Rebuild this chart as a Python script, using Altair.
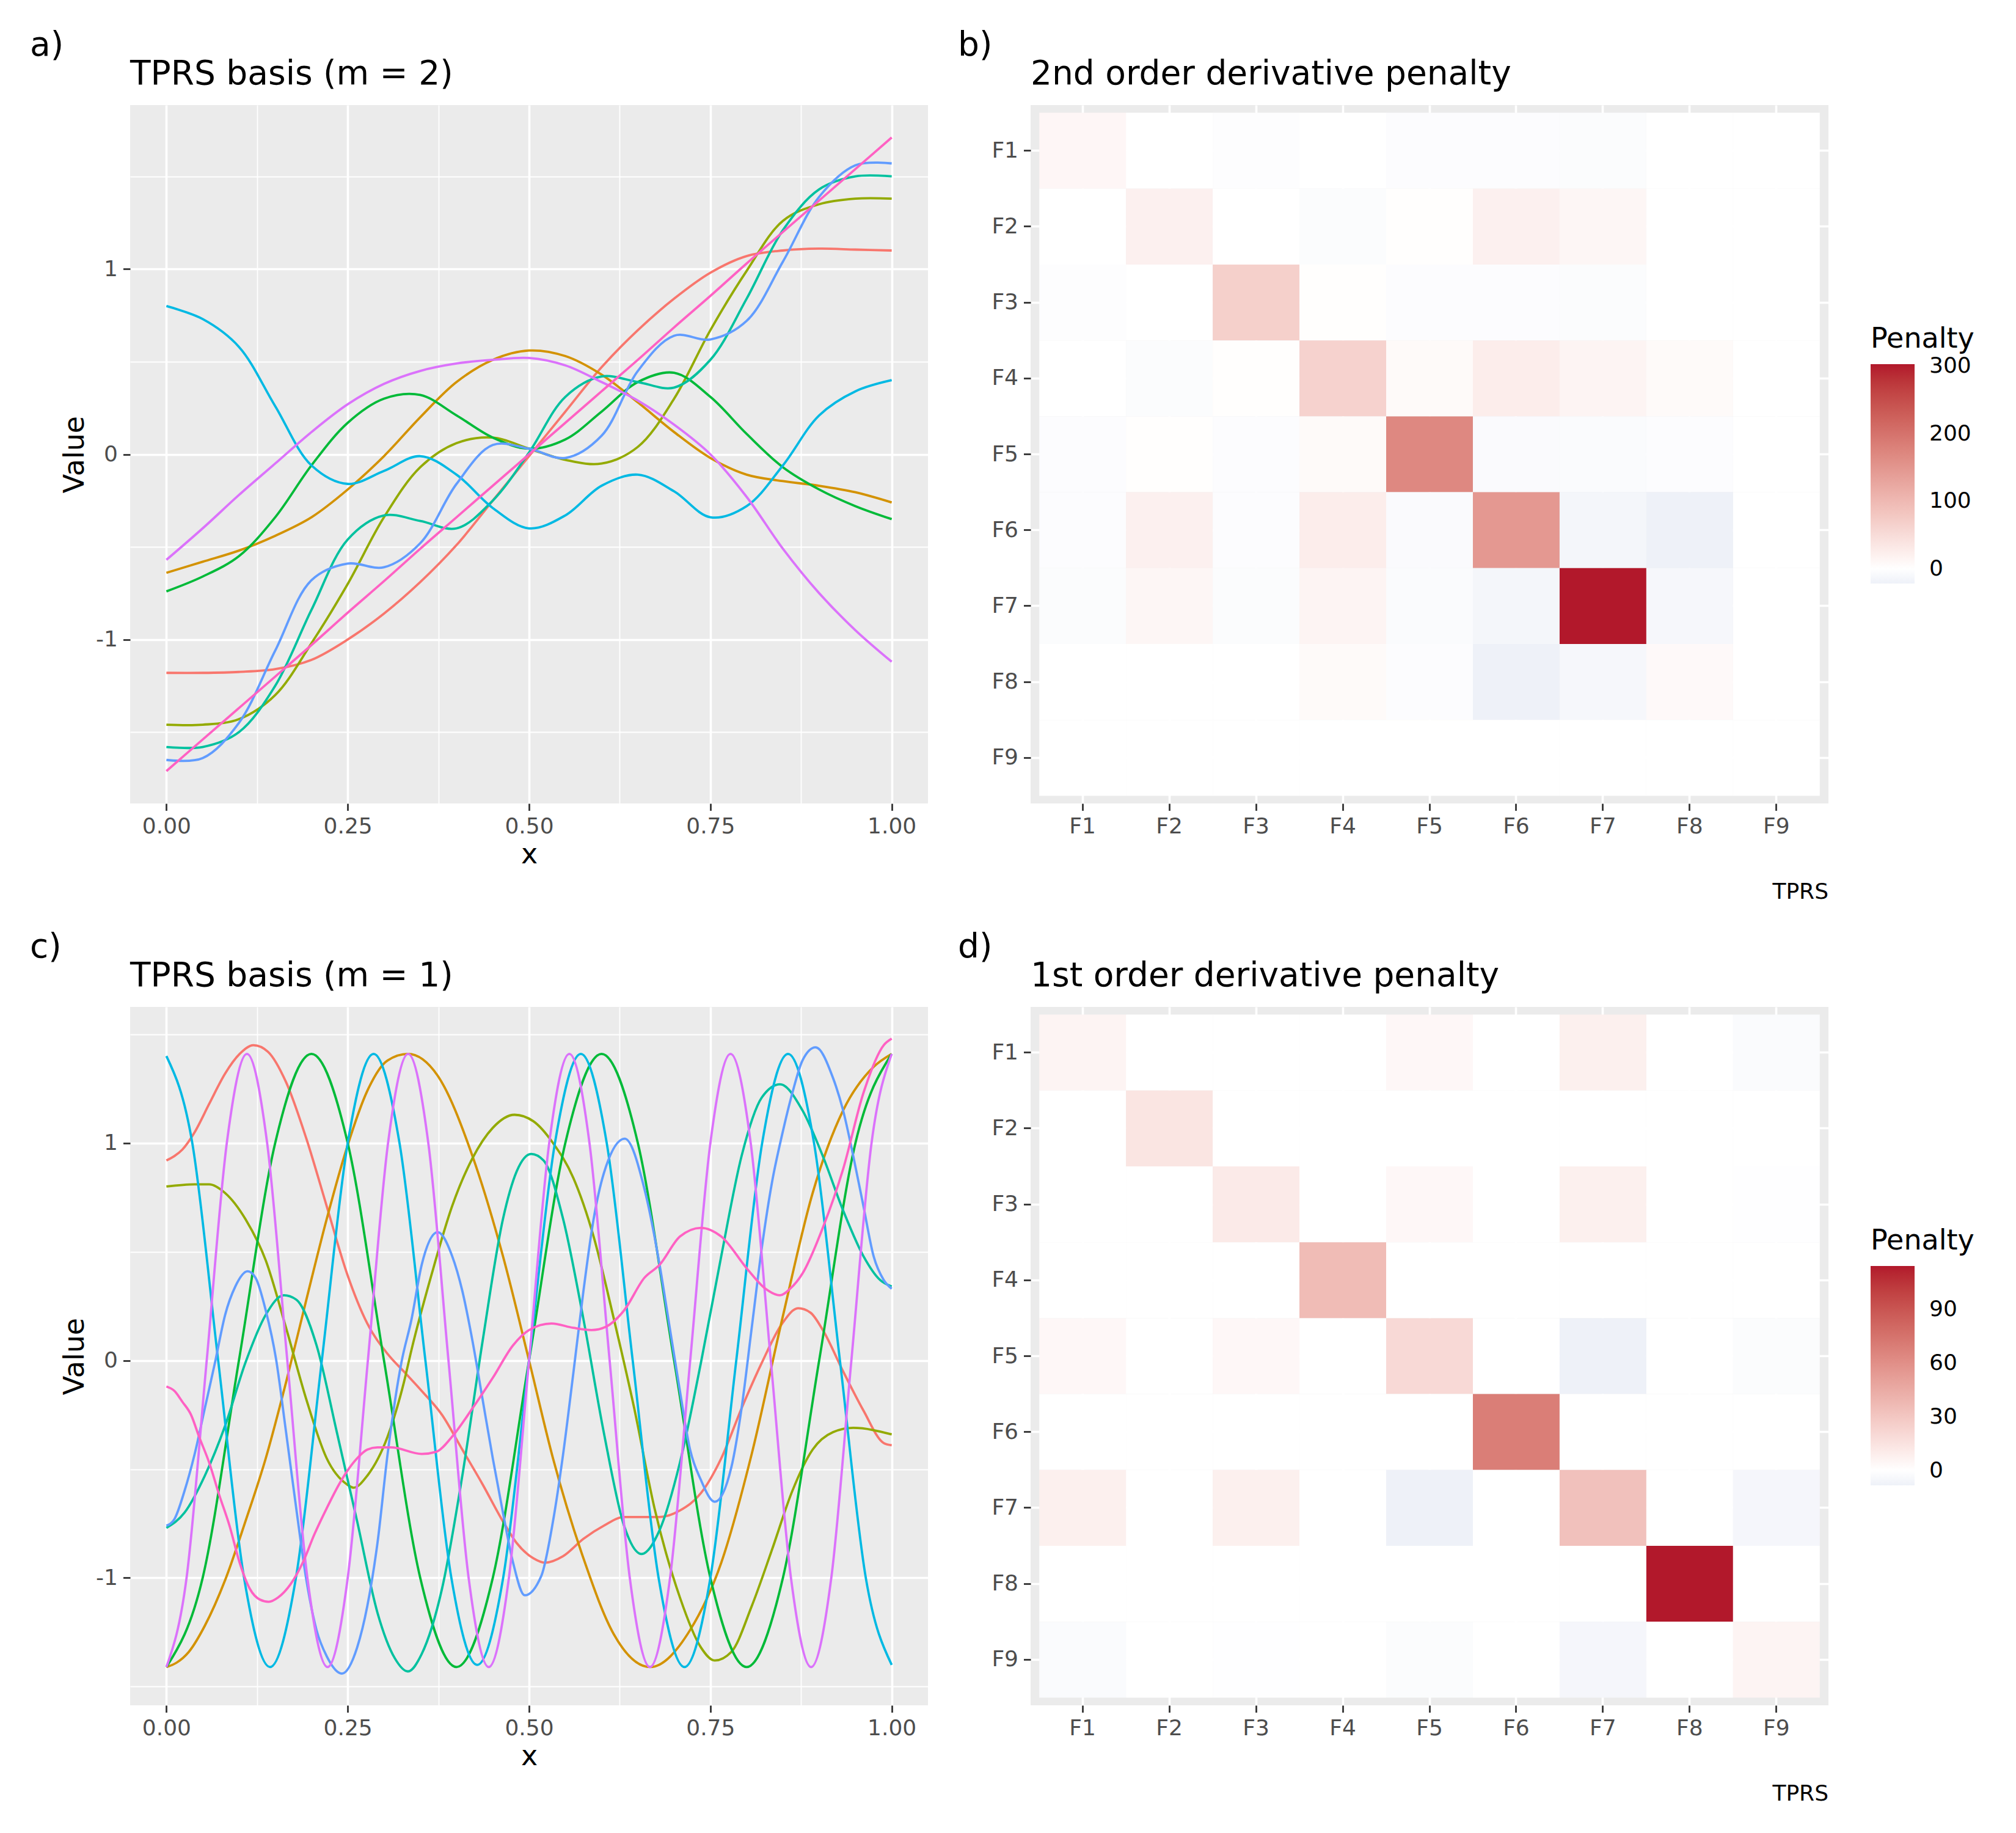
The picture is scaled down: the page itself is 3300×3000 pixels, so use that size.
import altair as alt
import pandas as pd

FONT = "DejaVu Sans"
FN = ["F1", "F2", "F3", "F4", "F5", "F6", "F7", "F8", "F9"]
HUE = ["#F8766D", "#D39200", "#93AA00", "#00BA38", "#00C19F",
       "#00B9E3", "#619CFF", "#DB72FB", "#FF61C3"]

# ---------------- panel a : TPRS basis (m = 2) ----------------
A_X = [0.0, 0.05, 0.10, 0.15, 0.20, 0.25, 0.30, 0.35, 0.40, 0.45, 0.50,
       0.55, 0.60, 0.65, 0.70, 0.75, 0.80, 0.85, 0.90, 0.95, 1.0]
A_F1 = [-1.18, -1.18, -1.175, -1.16, -1.11, -1.00, -0.86, -0.69, -0.49, -0.25, -0.01,
        0.23, 0.47, 0.67, 0.84, 0.98, 1.07, 1.10, 1.11, 1.105, 1.10]
A_F2 = [-0.64, -0.58, -0.52, -0.44, -0.34, -0.19, -0.01, 0.20, 0.39, 0.51, 0.56,
        0.53, 0.43, 0.28, 0.12, -0.02, -0.11, -0.145, -0.17, -0.205, -0.26]
A_F3 = [-1.46, -1.46, -1.43, -1.30, -1.02, -0.70, -0.34, -0.07, 0.06, 0.09, 0.03,
        -0.03, -0.05, 0.04, 0.30, 0.67, 0.99, 1.26, 1.35, 1.38, 1.38]
A_F4 = [-0.74, -0.66, -0.55, -0.34, -0.06, 0.17, 0.30, 0.32, 0.21, 0.09, 0.03,
        0.08, 0.23, 0.39, 0.44, 0.31, 0.11, -0.07, -0.19, -0.28, -0.35]
A_F5 = [-1.58, -1.58, -1.50, -1.25, -0.84, -0.46, -0.33, -0.36, -0.40, -0.25, 0.01,
        0.31, 0.42, 0.39, 0.36, 0.51, 0.84, 1.21, 1.43, 1.50, 1.50]
A_F6 = [0.80, 0.73, 0.58, 0.26, -0.06, -0.16, -0.09, -0.01, -0.11, -0.29, -0.40,
        -0.33, -0.17, -0.11, -0.20, -0.34, -0.28, -0.06, 0.21, 0.34, 0.40]
A_F7 = [-1.65, -1.64, -1.45, -1.06, -0.68, -0.59, -0.61, -0.48, -0.16, 0.05, 0.03,
        -0.02, 0.10, 0.45, 0.64, 0.62, 0.72, 1.04, 1.39, 1.56, 1.57]
A_F8 = [-0.57, -0.40, -0.22, -0.05, 0.12, 0.27, 0.38, 0.45, 0.49, 0.51, 0.52,
        0.48, 0.39, 0.29, 0.16, 0.00, -0.23, -0.51, -0.75, -0.95, -1.12]
A_F9 = [-1.71, -1.54, -1.37, -1.20, -1.03, -0.855, -0.685, -0.51, -0.34, -0.17, 0.0,
        0.17, 0.34, 0.51, 0.685, 0.855, 1.03, 1.20, 1.37, 1.54, 1.71]

# ---------------- panel c : TPRS basis (m = 1) ----------------
C_F1_X = [0, 0.011, 0.022, 0.039, 0.059, 0.081, 0.101, 0.12, 0.14, 0.165,
          0.193, 0.221, 0.249, 0.277, 0.305, 0.33, 0.352, 0.38, 0.408, 0.436,
          0.464, 0.483, 0.506, 0.522, 0.547, 0.575, 0.603, 0.631, 0.659, 0.68,
          0.708, 0.737, 0.765, 0.793, 0.821, 0.849, 0.871, 0.888, 0.905, 0.933,
          0.961, 0.989, 1.0]
C_F1_Y = [0.92, 0.94, 0.97, 1.05, 1.18, 1.32, 1.41, 1.45, 1.42, 1.28,
          1.02, 0.71, 0.40, 0.17, 0.03, -0.06, -0.14, -0.25, -0.41, -0.57,
          -0.74, -0.84, -0.91, -0.93, -0.90, -0.82, -0.76, -0.72, -0.72, -0.72,
          -0.69, -0.61, -0.45, -0.22, -0.01, 0.17, 0.24, 0.22, 0.14, -0.05,
          -0.23, -0.38, -0.39]
C_F2_X = [0, 0.014, 0.031, 0.053, 0.081, 0.109, 0.137, 0.165, 0.193, 0.221,
          0.249, 0.277, 0.305, 0.333, 0.374, 0.422, 0.464, 0.5, 0.533, 0.575,
          0.617, 0.667, 0.722, 0.765, 0.807, 0.849, 0.891, 0.933, 0.975, 1.0]
C_F2_Y = [-1.41, -1.39, -1.34, -1.22, -1.01, -0.74, -0.45, -0.10, 0.28, 0.65,
          0.98, 1.24, 1.38, 1.41, 1.31, 0.94, 0.48, 0.0, -0.45, -0.91,
          -1.26, -1.41, -1.24, -0.93, -0.43, 0.19, 0.77, 1.15, 1.35, 1.41]
C_F3_X = [0, 0.039, 0.059, 0.081, 0.109, 0.137, 0.165, 0.193, 0.221, 0.249,
          0.258, 0.277, 0.305, 0.3275, 0.338, 0.366, 0.394, 0.422, 0.45, 0.48,
          0.506, 0.533, 0.561, 0.589, 0.617, 0.645, 0.673, 0.708, 0.737, 0.756,
          0.779, 0.807, 0.835, 0.863, 0.891, 0.919, 0.947, 1.0]
C_F3_Y = [0.80, 0.81, 0.81, 0.77, 0.65, 0.46, 0.15, -0.18, -0.45, -0.57,
          -0.585, -0.53, -0.35, -0.10, 0.05, 0.40, 0.71, 0.93, 1.07, 1.13,
          1.10, 1.0, 0.84, 0.57, 0.19, -0.22, -0.68, -1.09, -1.32, -1.38,
          -1.34, -1.13, -0.87, -0.60, -0.41, -0.33, -0.31, -0.34]
C_F4_X = [0, 0.05, 0.10, 0.15, 0.20, 0.25, 0.30, 0.35, 0.40, 0.45, 0.50,
          0.55, 0.60, 0.65, 0.70, 0.75, 0.80, 0.85, 0.90, 0.95, 1.0]
C_F4_Y = [-1.41, -1.0, 0.0, 1.0, 1.41, 1.0, 0.0, -1.0, -1.41, -1.0, 0.0,
          1.0, 1.41, 1.0, 0.0, -1.0, -1.41, -1.0, 0.0, 1.0, 1.41]
C_F5_X = [0, 0.025, 0.053, 0.081, 0.109, 0.137, 0.162, 0.179, 0.207, 0.235,
          0.263, 0.291, 0.315, 0.333, 0.352, 0.38, 0.408, 0.436, 0.464, 0.483,
          0.503, 0.52, 0.547, 0.575, 0.603, 0.631, 0.655, 0.68, 0.708, 0.737,
          0.765, 0.793, 0.821, 0.846, 0.877, 0.905, 0.933, 0.961, 0.984, 1.0]
C_F5_Y = [-0.77, -0.70, -0.53, -0.30, -0.01, 0.21, 0.30, 0.28, 0.07, -0.33,
          -0.74, -1.16, -1.37, -1.43, -1.35, -1.05, -0.53, 0.09, 0.65, 0.87,
          0.95, 0.92, 0.65, 0.19, -0.33, -0.76, -0.89, -0.78, -0.47, -0.01,
          0.48, 0.94, 1.21, 1.27, 1.15, 0.94, 0.69, 0.48, 0.37, 0.34]
C_F6_X = [0, 0.0357, 0.0714, 0.1071, 0.1429, 0.1786, 0.2143, 0.25, 0.2857, 0.3214,
          0.3571, 0.3929, 0.4286, 0.4643, 0.5, 0.5357, 0.5714, 0.6071, 0.6429, 0.6786,
          0.7143, 0.75, 0.7857, 0.8214, 0.8571, 0.8929, 0.9286, 0.9643, 1.0]
C_F6_Y = [1.40, 1.0, 0.0, -1.0, -1.41, -1.0, 0.0, 1.0, 1.41, 1.0,
          0.0, -1.0, -1.40, -1.0, 0.0, 1.0, 1.41, 1.0, 0.0, -1.0,
          -1.41, -1.0, 0.0, 1.0, 1.41, 1.0, 0.0, -1.0, -1.40]
C_F7_X = [0, 0.011, 0.025, 0.039, 0.053, 0.067, 0.081, 0.095, 0.112, 0.123,
          0.137, 0.151, 0.165, 0.179, 0.193, 0.207, 0.221, 0.242, 0.263, 0.277,
          0.291, 0.305, 0.324, 0.338, 0.352, 0.374, 0.394, 0.408, 0.422, 0.436,
          0.45, 0.464, 0.478, 0.494, 0.517, 0.533, 0.547, 0.561, 0.575, 0.589,
          0.603, 0.632, 0.659, 0.673, 0.68, 0.694, 0.708, 0.722, 0.737, 0.756,
          0.779, 0.793, 0.807, 0.821, 0.835, 0.849, 0.863, 0.877, 0.895, 0.919,
          0.933, 0.947, 0.961, 0.975, 0.989, 1.0]
C_F7_Y = [-0.76, -0.73, -0.60, -0.43, -0.22, -0.01, 0.21, 0.34, 0.41, 0.38,
          0.23, 0.01, -0.33, -0.68, -1.01, -1.24, -1.36, -1.44, -1.32, -1.13,
          -0.84, -0.43, -0.01, 0.19, 0.44, 0.59, 0.48, 0.32, 0.09, -0.18,
          -0.45, -0.70, -0.93, -1.08, -0.99, -0.74, -0.43, -0.06, 0.32, 0.65,
          0.86, 1.02, 0.79, 0.57, 0.44, 0.15, -0.14, -0.41, -0.55, -0.65,
          -0.49, -0.22, 0.15, 0.52, 0.82, 1.04, 1.23, 1.38, 1.44, 1.30,
          1.15, 0.94, 0.71, 0.48, 0.37, 0.33]
C_F8_X = [0, 0.0278, 0.0556, 0.0833, 0.1111, 0.1389, 0.1667, 0.1944, 0.2222, 0.25,
          0.2778, 0.3056, 0.3333, 0.3611, 0.3889, 0.4167, 0.4444, 0.4722, 0.5, 0.5278,
          0.5556, 0.5833, 0.6111, 0.6389, 0.6667, 0.6944, 0.7222, 0.75, 0.7778, 0.8056,
          0.8333, 0.8611, 0.8889, 0.9167, 0.9444, 0.9722, 1.0]
C_F8_Y = [-1.41, -1.0, 0.0, 1.0, 1.41, 1.0, 0.0, -1.0, -1.41, -1.0,
          0.0, 1.0, 1.41, 1.0, 0.0, -1.0, -1.41, -1.0, 0.0, 1.0,
          1.41, 1.0, 0.0, -1.0, -1.41, -1.0, 0.0, 1.0, 1.41, 1.0,
          0.0, -1.0, -1.41, -1.0, 0.0, 1.0, 1.41]
C_F9_X = [0, 0.011, 0.022, 0.034, 0.045, 0.059, 0.073, 0.087, 0.101, 0.115,
          0.129, 0.141, 0.154, 0.171, 0.188, 0.204, 0.221, 0.238, 0.249, 0.263,
          0.277, 0.291, 0.31, 0.352, 0.372, 0.394, 0.422, 0.45, 0.478, 0.5,
          0.531, 0.561, 0.586, 0.606, 0.631, 0.659, 0.68, 0.708, 0.737, 0.765,
          0.801, 0.826, 0.846, 0.86, 0.877, 0.905, 0.933, 0.961, 0.989, 1.0]
C_F9_Y = [-0.12, -0.14, -0.19, -0.25, -0.35, -0.47, -0.62, -0.76, -0.93, -1.05,
          -1.10, -1.11, -1.09, -1.03, -0.93, -0.80, -0.68, -0.57, -0.51, -0.45,
          -0.41, -0.40, -0.40, -0.43, -0.42, -0.35, -0.22, -0.08, 0.07, 0.14,
          0.17, 0.15, 0.14, 0.155, 0.23, 0.38, 0.44, 0.57, 0.61, 0.57,
          0.42, 0.33, 0.30, 0.33, 0.40, 0.61, 0.88, 1.23, 1.45, 1.48]

# ---------------- panel b / d : penalty matrices (rows F1..F9, cols F1..F9) ----------------
B_PEN = [
    [12, 0, -3, 0.5, -4, -4, -5, 0, 0],
    [0, 21, 0, -5, 2, 21, 13, 0, 0],
    [-3, 0, 67, 2, -4, -4, -5, 0, 0],
    [0.5, -5, 2, 64, 7, 26, 15, 7, 0],
    [-4, 2, -4, 7, 169, -7, -6, -4, 0],
    [-4, 21, -4, 26, -7, 146, -14, -21.7, 0],
    [-5, 13, -5, 15, -6, -14, 302.7, -12, 0],
    [0, 0, 0, 7, -4, -21.7, -12, 8, 0],
    [0, 0, 0, 0, 0, 0, 0, 0, 0],
]
D_PEN = [
    [6, 0, 0, 0, 4, 0, 8, 0, -2.5],
    [0, 14, 0, 0, 0, 0, 0, 0, 0],
    [0, 0, 11, 0, 4, 0, 8, 0, -0.5],
    [0, 0, 0, 36, 0, 0, 0, 0, 0],
    [4, 0, 4, 0, 20, 0, -8.2, 0, -2],
    [0, 0, 0, 0, 0, 69, 0, 0, 0],
    [8, 0, 8, 0, -8.2, 0, 33, 0, -5],
    [0, 0, 0, 0, 0, 0, 0, 114, 0],
    [-2.5, 0, -0.5, 0, -2, 0, -5, 0, 6],
]
B_LEGEND = [0, 100, 200, 300]
D_LEGEND = [0, 30, 60, 90]

# ---------------- helpers ----------------
W, H = 1306, 1143
GRID_MAJOR = 3.6
GRID_MINOR = 1.8
LOW = "#EEF1F8"
HIGH = "#B2182B"


def long_df(series):
    rows = []
    for fn, (xs, ys) in series.items():
        if len(xs) != len(ys):
            raise ValueError("length mismatch " + fn)
        for xv, yv in zip(xs, ys):
            rows.append({"fn": fn, "x": xv, "value": yv})
    return pd.DataFrame(rows)


def text_layer(txt, x, y, size, align="left"):
    return alt.Chart(pd.DataFrame({"t": [txt]})).mark_text(
        align=align, baseline="alphabetic", font=FONT, fontSize=size, color="black"
    ).encode(text="t:N", x=alt.value(x), y=alt.value(y))


def line_panel(df, ydom, tag, title, interp):
    xs = alt.Scale(domain=[-0.05, 1.05], nice=False, zero=False)
    ys = alt.Scale(domain=ydom, nice=False, zero=False)
    minor = alt.Chart(df).mark_line(opacity=0).encode(
        x=alt.X("x:Q", scale=xs,
                axis=alt.Axis(orient="top", values=[0.125, 0.375, 0.625, 0.875],
                              labels=False, ticks=False, domain=False, title=None,
                              grid=True, gridColor="white", gridWidth=GRID_MINOR, zindex=0)),
        y=alt.Y("value:Q", scale=ys,
                axis=alt.Axis(orient="right", values=[-1.5, -0.5, 0.5, 1.5],
                              labels=False, ticks=False, domain=False, title=None,
                              grid=True, gridColor="white", gridWidth=GRID_MINOR, zindex=0)),
        detail="fn:N",
    )
    lines = alt.Chart(df).mark_line(strokeWidth=3.8, interpolate=interp).encode(
        x=alt.X("x:Q", scale=xs,
                axis=alt.Axis(values=[0, 0.25, 0.5, 0.75, 1], format=".2f", title="x",
                              grid=True, gridColor="white", gridWidth=GRID_MAJOR,
                              titlePadding=6, zindex=0)),
        y=alt.Y("value:Q", scale=ys,
                axis=alt.Axis(values=[-1, 0, 1], labelExpr="replace(datum.label, '\u2212', '-')",
                              title="Value", grid=True, gridColor="white",
                              gridWidth=GRID_MAJOR, titlePadding=10, zindex=0)),
        color=alt.Color("fn:N", scale=alt.Scale(domain=FN, range=HUE), legend=None),
    )
    return alt.layer(
        minor, lines,
        text_layer(tag, -164, -81, 55),
        text_layer(title, 0, -34, 55),
    ).resolve_axis(x="independent", y="independent").properties(width=W, height=H)


def heat_panel(mat, vmin, vmax, legvals, tag, title):
    rows = []
    for i, r in enumerate(FN):
        for j, c in enumerate(FN):
            rows.append({"row": r, "col": c, "v": mat[i][j]})
    df = pd.DataFrame(rows)
    band = alt.Scale(domain=FN, paddingInner=0, paddingOuter=0.1)
    rect = alt.Chart(df).mark_rect(strokeWidth=0).encode(
        x=alt.X("col:N", scale=band,
                axis=alt.Axis(title=None, grid=True, gridColor="white", gridWidth=GRID_MAJOR,
                              bandPosition=0.5, labelAngle=0, zindex=0)),
        y=alt.Y("row:N", scale=band,
                axis=alt.Axis(title=None, grid=True, gridColor="white", gridWidth=GRID_MAJOR,
                              bandPosition=0.5, zindex=0)),
        color=alt.Color(
            "v:Q",
            scale=alt.Scale(domain=[vmin, 0, vmax], range=[LOW, "#FFFFFF", HIGH],
                            interpolate="lab"),
            legend=alt.Legend(
                title="Penalty", orient="none", legendX=1375, legendY=361,
                direction="vertical", gradientLength=359, gradientThickness=72,
                gradientStrokeWidth=0, values=legvals, padding=0,
                titleFont=FONT, titleFontSize=46, titleFontWeight="normal",
                titleColor="black", titlePadding=17,
                labelFont=FONT, labelFontSize=36, labelColor="black", labelOffset=24,
            ),
        ),
    )
    return alt.layer(
        rect,
        text_layer(tag, -119, -81, 55),
        text_layer(title, 0, -34, 55),
        text_layer("TPRS", W, H + 156, 36, align="right"),
    ).properties(width=W, height=H)


df_a = long_df({
    "F1": (A_X, A_F1), "F2": (A_X, A_F2), "F3": (A_X, A_F3),
    "F4": (A_X, A_F4), "F5": (A_X, A_F5), "F6": (A_X, A_F6),
    "F7": (A_X, A_F7), "F8": (A_X, A_F8), "F9": (A_X, A_F9),
})
df_c = long_df({
    "F1": (C_F1_X, C_F1_Y), "F2": (C_F2_X, C_F2_Y), "F3": (C_F3_X, C_F3_Y),
    "F4": (C_F4_X, C_F4_Y), "F5": (C_F5_X, C_F5_Y), "F6": (C_F6_X, C_F6_Y),
    "F7": (C_F7_X, C_F7_Y), "F8": (C_F8_X, C_F8_Y), "F9": (C_F9_X, C_F9_Y),
})

pa = line_panel(df_a, [-1.885, 1.885], "a)", "TPRS basis (m = 2)", "catmull-rom")
pb = heat_panel(B_PEN, -21.7, 302.7, B_LEGEND, "b)", "2nd order derivative penalty")
pc = line_panel(df_c, [-1.586, 1.626], "c)", "TPRS basis (m = 1)", "monotone")
pd_ = heat_panel(D_PEN, -8.2, 114, D_LEGEND, "d)", "1st order derivative penalty")

chart = alt.concat(
    pa, pb, pc, pd_, columns=2,
    spacing={"row": 333, "column": 168}, bounds="flush",
).resolve_scale(
    color="independent", x="independent", y="independent"
).properties(
    padding={"left": 41, "top": 39, "right": 30, "bottom": 30},
    background="white",
).configure_view(
    fill="#EBEBEB", strokeWidth=0
).configure_axis(
    labelFont=FONT, labelFontSize=36, labelColor="#4D4D4D", labelPadding=9,
    titleFont=FONT, titleFontSize=46, titleFontWeight="normal", titleColor="black",
    tickColor="#333333", tickWidth=2.8, tickSize=11.5, domain=False,
)

chart.save("out.html", embed_options={"renderer": "svg", "actions": False})
